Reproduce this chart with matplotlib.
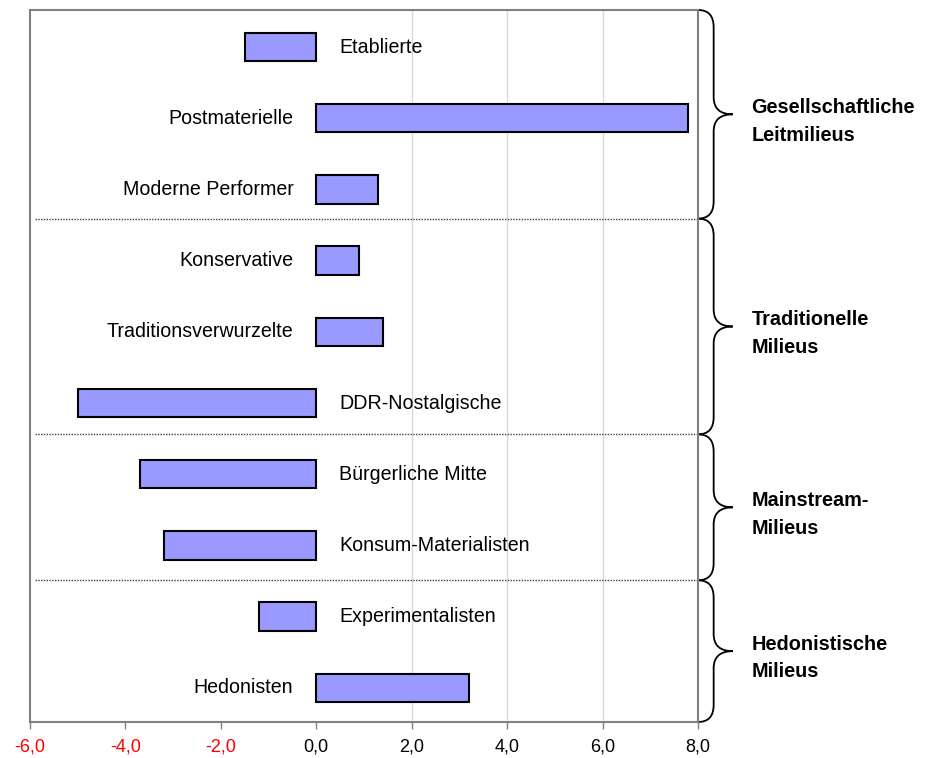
import matplotlib
matplotlib.use("Agg")
import matplotlib.pyplot as plt
from matplotlib.path import Path
from matplotlib.patches import PathPatch

plt.rcParams['font.family'] = ['Liberation Sans', 'DejaVu Sans']

# Data
milieus = ["Etablierte", "Postmaterielle", "Moderne Performer", "Konservative",
           "Traditionsverwurzelte", "DDR-Nostalgische", "Bürgerliche Mitte",
           "Konsum-Materialisten", "Experimentalisten", "Hedonisten"]
values = [-1.5, 7.8, 1.3, 0.9, 1.4, -5.0, -3.7, -3.2, -1.2, 3.2]

group_names = ["Gesellschaftliche\nLeitmilieus", "Traditionelle\nMilieus",
               "Mainstream-\nMilieus", "Hedonistische\nMilieus"]
group_sizes = [3, 3, 2, 2]

x_ticks = [-6, -4, -2, 0, 2, 4, 6, 8]


def draw_brace(ax, top, bot, x0=1.0, w=0.052, r=0.24):
    # right curly brace, x in axes fraction, y in data units
    x1 = x0 + w * 0.45
    x2 = x0 + w
    mid = (top + bot) / 2
    verts = [(x0, top), (x1, top), (x1, top + r),
             (x1, mid - r), (x1, mid), (x2, mid),
             (x1, mid), (x1, mid + r),
             (x1, bot - r), (x1, bot), (x0, bot)]
    codes = [Path.MOVETO, Path.CURVE3, Path.CURVE3,
             Path.LINETO, Path.CURVE3, Path.CURVE3,
             Path.CURVE3, Path.CURVE3,
             Path.LINETO, Path.CURVE3, Path.CURVE3]
    patch = PathPatch(Path(verts, codes), transform=ax.get_yaxis_transform(),
                      facecolor="none", edgecolor="black", lw=1.3, clip_on=False)
    ax.add_patch(patch)


fig = plt.figure(figsize=(9.26, 7.58), dpi=100)
ax = fig.add_axes([0.0324, 0.0475, 0.7214, 0.9393])

ypos = list(range(len(milieus)))
ax.barh(ypos, values, height=0.4, color="#9999FF", edgecolor="black", linewidth=1.5, zorder=3)

# category labels on the opposite side of the zero line
for y, v, name in zip(ypos, values, milieus):
    if v >= 0:
        ax.annotate(name, (0, y), xytext=(-16.5, 0), textcoords="offset points",
                    ha="right", va="center", fontsize=14.1)
    else:
        ax.annotate(name, (0, y), xytext=(16.5, 0), textcoords="offset points",
                    ha="left", va="center", fontsize=14.1)

y_top, y_bot = -0.52, len(milieus) - 0.52
ax.set_xlim(-6, 8)
ax.set_ylim(y_bot, y_top)
ax.set_yticks([])
ax.set_xticks(x_ticks)
ax.set_xticklabels([f"{t:.1f}".replace(".", ",") for t in x_ticks], fontsize=13)
for lbl, t in zip(ax.get_xticklabels(), x_ticks):
    lbl.set_color("red" if t < 0 else "black")
ax.tick_params(axis="x", length=5, color="#808080", width=1, pad=7)

for t in x_ticks:
    if 0 < t < 8:
        ax.axvline(t, color="#d9d9d9", lw=1, zorder=1)

for s in ax.spines.values():
    s.set_color("#808080")
    s.set_linewidth(1.5)

# group separators, braces and group labels
start = y_top
bounds = [2.41, 5.44, 7.49, y_bot]
for i, (gname, end) in enumerate(zip(group_names, bounds)):
    if i < len(bounds) - 1:
        ax.plot([0.008, 1.0], [end, end], transform=ax.get_yaxis_transform(),
                color="#404040", lw=1, ls=(0, (1, 1)), zorder=2)
    draw_brace(ax, start, end)
    ax.text(1.08, (start + end) / 2 + 0.1, gname, transform=ax.get_yaxis_transform(),
            ha="left", va="center", fontsize=14.3, fontweight="bold", linespacing=1.55)
    start = end

fig.savefig("out.png", dpi=100)
